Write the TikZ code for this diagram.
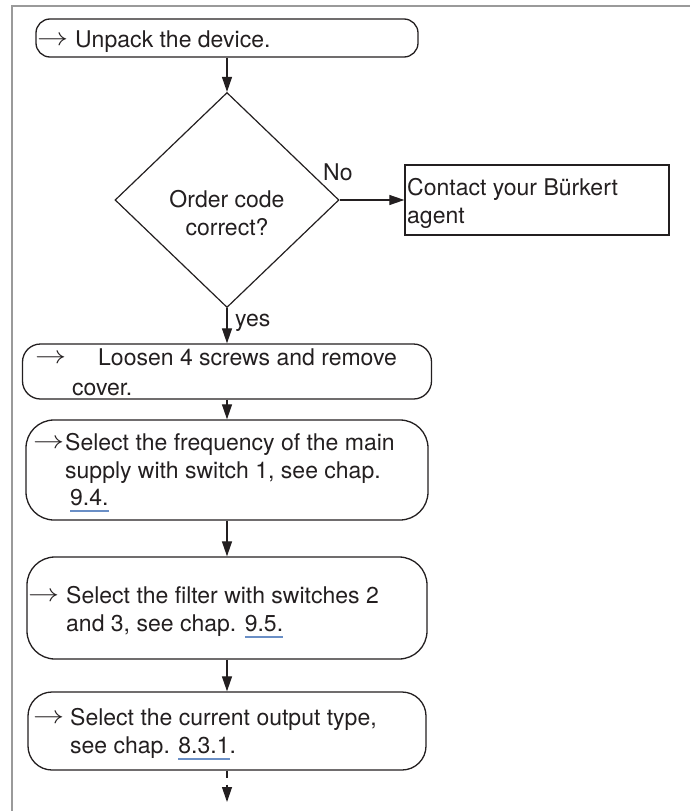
\documentclass[tikz,border=0pt]{standalone}
\usepackage{fontspec}
\setmainfont{TeX Gyre Heros}
\usetikzlibrary{shapes.geometric,arrows.meta}
\definecolor{ink}{HTML}{231F20}
\definecolor{framegray}{HTML}{9A9A9A}
\definecolor{ulblue}{HTML}{6A8FC6}
\newsavebox\ulbox
\newcommand\ulnk[1]{\sbox\ulbox{#1}\rlap{\textcolor{ulblue}{\rule[-7pt]{\wd\ulbox}{1.6pt}}}\usebox\ulbox}
\newcommand\tarr{\raisebox{1.5pt}{\scalebox{1.25}[1]{$\rightarrow$}}}
\begin{document}
\begin{tikzpicture}[x=1pt,y=-1pt,
  font=\fontsize{23}{28}\selectfont,
  stepbox/.style={draw=ink, line width=1.3pt, rounded corners=#1, inner sep=0pt},
  stepbox/.default=14pt,
  plainbox/.style={draw=ink, line width=1.3pt, inner sep=0pt},
  decision/.style={draw=ink, diamond, line width=1.2pt, inner sep=0pt,
    minimum width=224pt, minimum height=215pt},
  flow/.style={draw=ink, line width=1.2pt, -{Triangle[length=15pt,width=10pt]}},
  txt/.style={anchor=base west, inner sep=0pt, text=ink},
  frameline/.style={draw=framegray, line width=2.5pt}]
\useasboundingbox (0,0) rectangle (690,811);
\draw[frameline] (12,811) -- (12,6) -- (690,6);

% box 1
\node[stepbox=14pt, minimum width=382pt, minimum height=38pt] (b1) at (227,38) {};
\node[txt] (t1a) at (37,47) {\tarr};
\node[txt] (t1b) at (75,47) {Unpack the device.};

% decision
\node[decision] (d) at (227,200) {};
\node[txt, anchor=base] (q1) at (227,207) {Order code};
\node[txt, anchor=base] (q2) at (227,235) {correct?};

% contact box
\node[plainbox, minimum width=264pt, minimum height=70pt] (c) at (537,200) {};
\node[txt] (c1) at (407,195) {Contact your Bürkert};
\node[txt] (c2) at (407,223) {agent};

% box 2
\node[stepbox=18pt, minimum width=409pt, minimum height=55pt] (b2) at (227,371.5) {};
\node[txt] (t2a) at (35,365) {\tarr};
\node[txt] (t2b) at (98,365) {Loosen 4 screws and remove};
\node[txt] (t2c) at (72,395) {cover.};

% box 3
\node[stepbox=28pt, minimum width=402pt, minimum height=100pt] (b3) at (227,470) {};
\node[txt] (t3a) at (33,450) {\tarr};
\node[txt] (t3b) at (65,450) {Select the frequency of the main};
\node[txt] (t3c) at (65,478) {supply with switch 1, see chap.};
\node[txt] (t3d) at (70,505) {\ulnk{9.4.}};

% box 4
\node[stepbox=28pt, minimum width=400pt, minimum height=102pt] (b4) at (227,608) {};
\node[txt] (t4a) at (28,603) {\tarr};
\node[txt] (t4b) at (66,603) {Select the filter with switches 2};
\node[txt] (t4c) at (66,631) {and 3, see chap. \ulnk{9.5.}};

% box 5
\node[stepbox=24pt, minimum width=398pt, minimum height=78pt] (b5) at (227,731) {};
\node[txt] (t5a) at (33,725) {\tarr};
\node[txt] (t5b) at (70,725) {Select the current output type,};
\node[txt] (t5c) at (70,753) {see chap. \ulnk{8.3.1}.};

\coordinate (e) at (227,802);

% connectors
\draw[flow] (b1.south) -- (d.north);
\draw[flow] (d.east) -- (c.west);
\draw[flow] (d.south) -- (b2.north);
\draw[flow] (b2.south) -- (b3.north);
\draw[flow] (b3.south) -- (b4.north);
\draw[flow] (b4.south) -- (b5.north);
\draw[flow, dash pattern=on 7pt off 7pt] (b5.south) -- (e);

% labels
\node[txt] (no) at (323,180) {No};
\node[txt] (yes) at (235,326) {yes};
\end{tikzpicture}
\end{document}
